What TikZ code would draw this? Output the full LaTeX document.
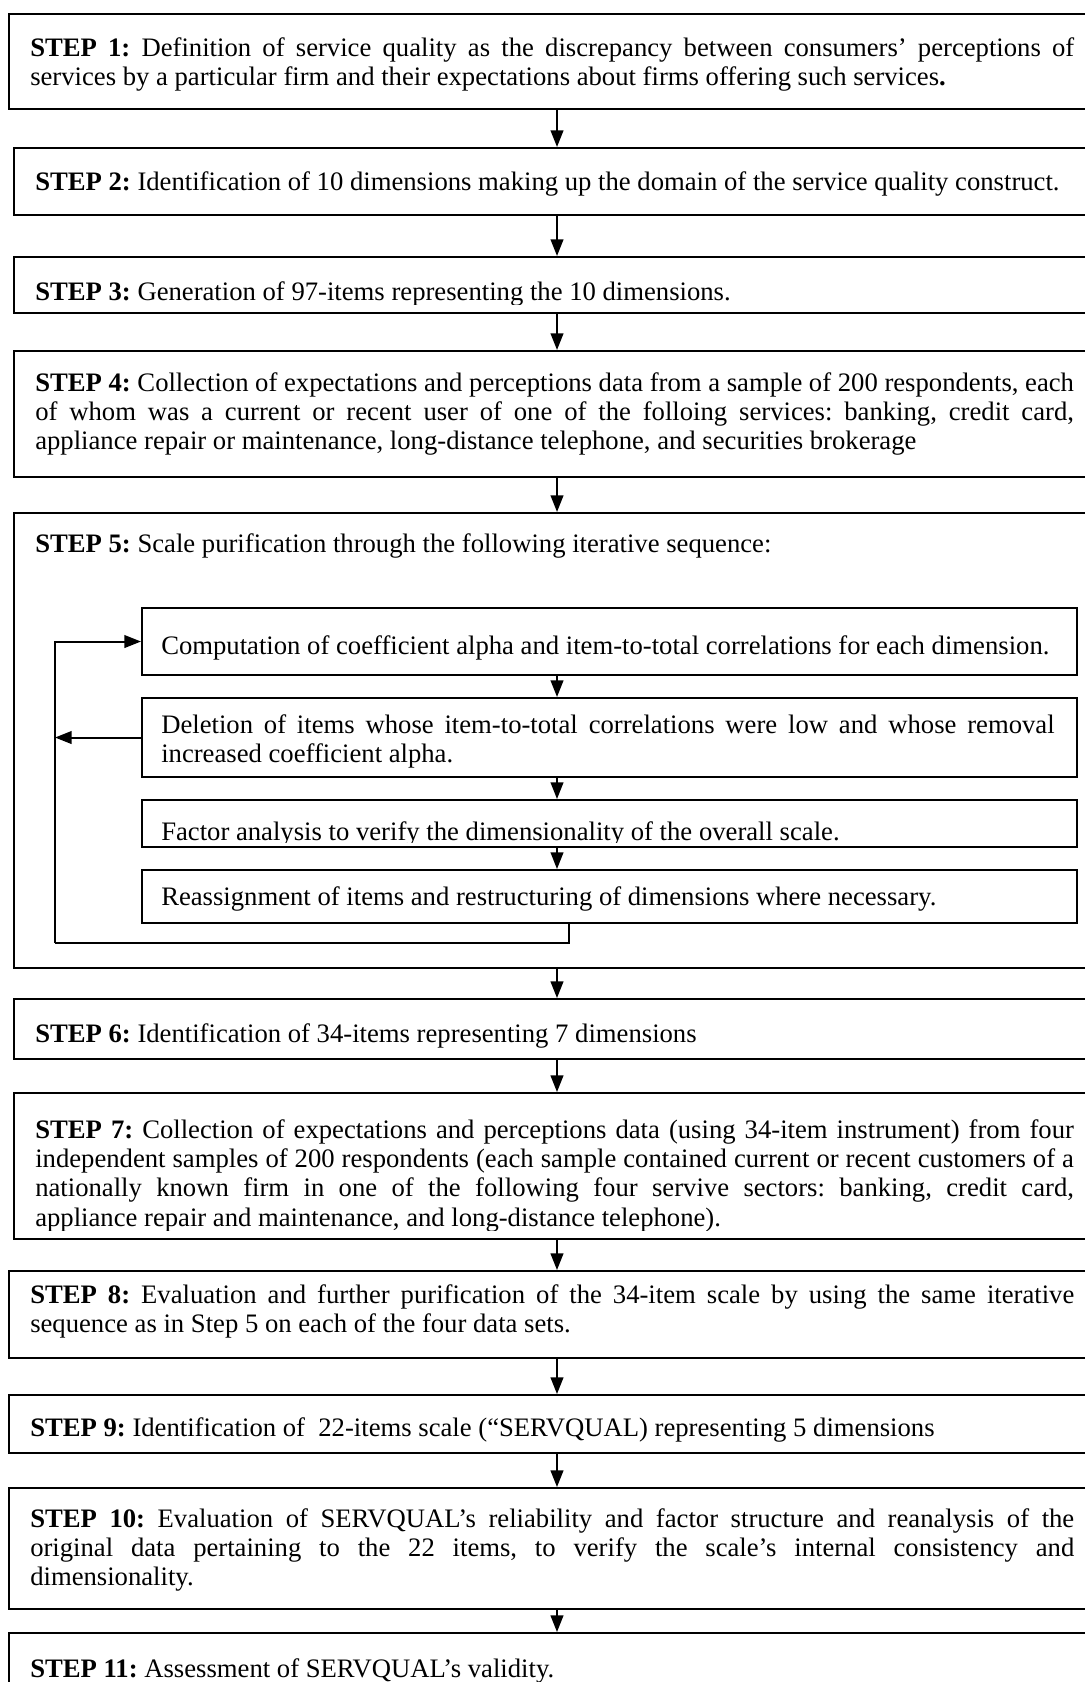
\documentclass[tikz,border=0pt]{standalone}
\usepackage{fontspec}
\setmainfont{Liberation Serif}
\usetikzlibrary{arrows.meta,fit}

% one fully justified line of a text block
\newcommand{\jline}[1]{\makebox[\linewidth][s]{#1}\\}

\tikzset{
  stepbox/.style={draw, line width=1.5pt, inner sep=0pt},
  steptext/.style={anchor=base west, inner sep=0pt, font=\fontsize{20pt}{22pt}\selectfont\frenchspacing},
  flow/.style={line width=1.5pt, -{Triangle[length=12.5pt,width=9.5pt]}},
  loopline/.style={line width=1.5pt},
}

\begin{document}
\begin{tikzpicture}[x=0.75pt, y=-0.75pt]
\clip (0,0) rectangle (1085,1682);
\fill[white] (0,0) rectangle (1085,1682);

% ---------- outer step boxes ----------
\node[stepbox, fit={(9,14) (1105,109)}] (s1) {};
\node[stepbox, fit={(14,148) (1100,215)}] (s2) {};
\node[stepbox, fit={(14,257) (1100,313)}] (s3) {};
\node[stepbox, fit={(14,351) (1100,477)}] (s4) {};
\node[stepbox, fit={(14,513) (1100,968)}] (s5) {};
\node[stepbox, fit={(14,999) (1100,1059)}] (s6) {};
\node[stepbox, fit={(14,1093) (1100,1239)}] (s7) {};
\node[stepbox, fit={(9,1271) (1105,1358)}] (s8) {};
\node[stepbox, fit={(9,1395) (1105,1453)}] (s9) {};
\node[stepbox, fit={(9,1488) (1105,1609)}] (s10) {};
\node[stepbox, fit={(9,1633) (1105,1720)}] (s11) {};

% ---------- inner boxes of the purification loop ----------
\node[stepbox, fit={(142,608) (1077,675)}] (pa) {};
\node[stepbox, fit={(142,698) (1077,777)}] (pb) {};
\node[stepbox, fit={(142,800) (1077,847)}] (pc) {};
\node[stepbox, fit={(142,870) (1077,923)}] (pd) {};

% ---------- texts ----------
\node[steptext] (t1) at (30,56) {\parbox[t]{783pt}{%
\jline{\textbf{STEP 1:} Definition of service quality as the discrepancy between consumers’ perceptions of}
services by a particular firm and their expectations about firms offering such services\textbf{.}}};

\node[steptext] (t2) at (35,190) {\textbf{STEP 2:} Identification of 10 dimensions making up the domain of the service quality construct.};

\begin{scope}
\clip (14,257) rectangle (1100,304);
\node[steptext] (t3) at (35,300) {\textbf{STEP 3:} Generation of 97-items representing the 10 dimensions.};
\end{scope}

\node[steptext] (t4) at (35,391) {\parbox[t]{779pt}{%
\jline{\textbf{STEP 4:} Collection of expectations and perceptions data from a sample of 200 respondents, each}
\jline{of whom was a current or recent user of one of the folloing services: banking, credit card,}
appliance repair or maintenance, long-distance telephone, and securities brokerage}};

\node[steptext] (t5) at (35,552) {\textbf{STEP 5:} Scale purification through the following iterative sequence:};

\node[steptext] (ta) at (161,654) {Computation of coefficient alpha and item-to-total correlations for each dimension.};

\begin{scope}
\clip (142,698) rectangle (1077,767);
\node[steptext] (tb) at (161,733) {\parbox[t]{670pt}{%
\jline{Deletion of items whose item-to-total correlations were low and whose removal}
increased coefficient alpha.}};
\end{scope}

\begin{scope}
\clip (142,800) rectangle (1077,842);
\node[steptext] (tc) at (161,840) {Factor analysis to verify the dimensionality of the overall scale.};
\end{scope}

\node[steptext] (td) at (161,905) {Reassignment of items and restructuring of dimensions where necessary.};

\node[steptext] (t6) at (35,1042) {\textbf{STEP 6:} Identification of 34-items representing 7 dimensions};

\begin{scope}
\clip (14,1093) rectangle (1100,1230);
\node[steptext] (t7) at (35,1138) {\parbox[t]{779pt}{%
\jline{\textbf{STEP 7:} Collection of expectations and perceptions data (using 34-item instrument) from four}
\jline{independent samples of 200 respondents (each sample contained current or recent customers of a}
\jline{nationally known firm in one of the following four servive sectors: banking, credit card,}
appliance repair and maintenance, and long-distance telephone).}};
\end{scope}

\node[steptext] (t8) at (30,1303) {\parbox[t]{783pt}{%
\jline{\textbf{STEP 8:} Evaluation and further purification of the 34-item scale by using the same iterative}
sequence as in Step 5 on each of the four data sets.}};

\node[steptext] (t9) at (30,1436) {\textbf{STEP 9:} Identification of \ 22-items scale (“SERVQUAL) representing 5 dimensions};

\node[steptext] (t10) at (30,1527) {\parbox[t]{783pt}{%
\jline{\textbf{STEP 10:} Evaluation of SERVQUAL’s reliability and factor structure and reanalysis of the}
\jline{original data pertaining to the 22 items, to verify the scale’s internal consistency and}
dimensionality.}};

\node[steptext] (t11) at (30,1677) {\textbf{STEP 11:} Assessment of SERVQUAL’s validity.};

% ---------- connectors between steps ----------
\coordinate (axis) at (557,0);
\draw[flow] (s1.south) -- (s2.north);
\draw[flow] (s2.south) -- (s3.north);
\draw[flow] (s3.south) -- (s4.north);
\draw[flow] (s4.south) -- (s5.north);
\draw[flow] (s5.south) -- (s6.north);
\draw[flow] (s6.south) -- (s7.north);
\draw[flow] (s7.south) -- (s8.north);
\draw[flow] (s8.south) -- (s9.north);
\draw[flow] (s9.south) -- (s10.north);
\draw[flow] (s10.south) -- (s11.north);

% ---------- connectors inside the loop ----------
\draw[flow] (pa.south -| axis) -- (pb.north -| axis);
\draw[flow] (pb.south -| axis) -- (pc.north -| axis);
\draw[flow] (pc.south -| axis) -- (pd.north -| axis);

\coordinate (loopR) at (569,943);
\coordinate (loopL) at (55,943);
\draw[loopline] (pd.south -| loopR) -- (loopR) -- (loopL);
\draw[flow] (loopL) -- (loopL |- pa.west) -- (pa.west);
\draw[flow] (pb.west) -- (pb.west -| loopL);
\end{tikzpicture}
\end{document}
